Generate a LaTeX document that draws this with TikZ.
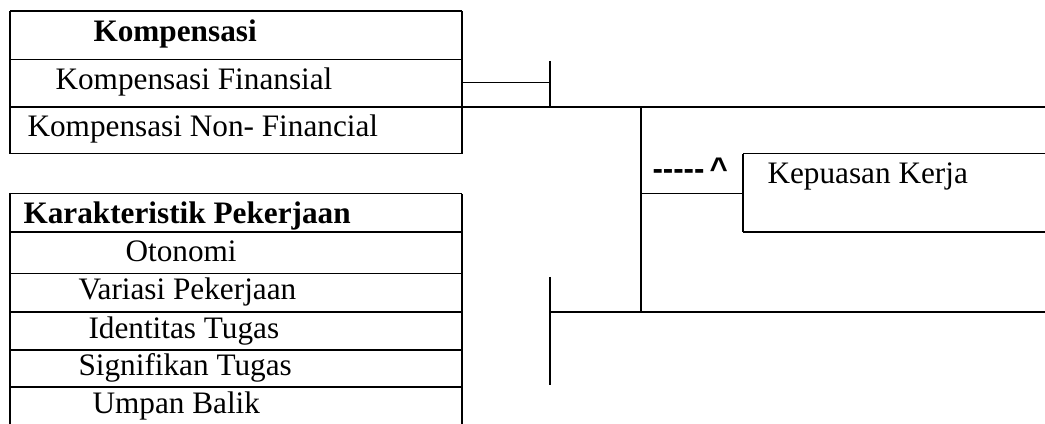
\documentclass[tikz,border=0pt]{standalone}
\usepackage{fontspec}
\setmainfont{Liberation Serif}
\newfontfamily\arialfont{Liberation Sans}
\begin{document}
\begin{tikzpicture}[x=0.4pt,y=-0.4pt,
  thinl/.style={line width=0.4pt},
  medl/.style={line width=0.6pt},
  thickl/.style={line width=0.8pt},
  txt/.style={anchor=base west, inner sep=0pt, font=\fontsize{12.5}{15}\selectfont},
  btxt/.style={txt, font=\fontsize{12.5}{15}\selectfont\bfseries}]
\useasboundingbox (0,0) rectangle (1045,424);

% ---- table Kompensasi ----
\draw[medl] (10,11) -- (462,11);
\draw[thinl] (10,60) -- (462,60);
\draw[thinl] (10,154) -- (462,154);
\draw[thickl] (10,11) -- (10,154);
\draw[thickl] (462,11) -- (462,154);

\node[btxt] (komp) at (93,42) {Kompensasi};
\node[txt] (fin) at (55,90) {Kompensasi Finansial};
\node[txt] (nonfin) at (27,137) {Kompensasi Non- Financial};

% ---- table Karakteristik ----
\draw[thinl] (10,194) -- (462,194);
\draw[thickl] (10,232) -- (462,232);
\draw[thinl] (10,274) -- (462,274);
\draw[thickl] (10,312) -- (462,312);
\draw[thickl] (10,350) -- (462,350);
\draw[thickl] (10,387) -- (462,387);
\draw[thickl] (10,193) -- (10,430);
\draw[thickl] (462,194) -- (462,430);

\node[btxt] (kar) at (23,224) {Karakteristik Pekerjaan};
\node[txt] (oto) at (125,262) {Otonomi};
\node[txt] (var) at (78,300) {Variasi Pekerjaan};
\node[txt] (ide) at (88,339) {Identitas Tugas};
\node[txt] (sig) at (78,376) {Signifikan Tugas};
\node[txt] (ump) at (92,414) {Umpan Balik};

% ---- Kepuasan Kerja box ----
\coordinate (kk-tl) at (743,154);
\coordinate (kk-bl) at (743,232);
\coordinate (kk-in) at (743,194);
\draw[thinl] (kk-tl) -- (1045,154);
\draw[thickl] (kk-tl) -- (kk-bl);
\draw[thickl] (kk-bl) -- (1045,232);
\node[txt] (kep) at (767,184) {Kepuasan Kerja};

% ---- connectors ----
\coordinate (fin-r) at (462,83);
\coordinate (j1) at (550,83);
\coordinate (j1top) at (550,61);
\coordinate (main-l) at (10,107);
\coordinate (main-r) at (1045,107);
\coordinate (v-top) at (641,107);
\coordinate (v-bot) at (641,312);
\coordinate (v-mid) at (641,194);
\coordinate (j2top) at (550,277);
\coordinate (j2bot) at (550,385);
\coordinate (j2) at (550,312);
\coordinate (low-r) at (1045,312);

\draw[thinl] (fin-r) -- (j1);
\draw[thickl] (j1top) -- (550,107);
\draw[thickl] (main-l) -- (main-r);
\draw[thickl] (v-top) -- (v-bot);
\draw[thinl] (v-mid) -- (kk-in);
\draw[thickl] (j2top) -- (j2bot);
\draw[thickl] (j2) -- (low-r);

\node[anchor=base west, inner sep=0pt, font=\arialfont\bfseries\fontsize{12.5}{15}\selectfont] (arr) at (652,180) {-{}-{}-{}-{}-\,\textasciicircum};
\end{tikzpicture}
\end{document}
